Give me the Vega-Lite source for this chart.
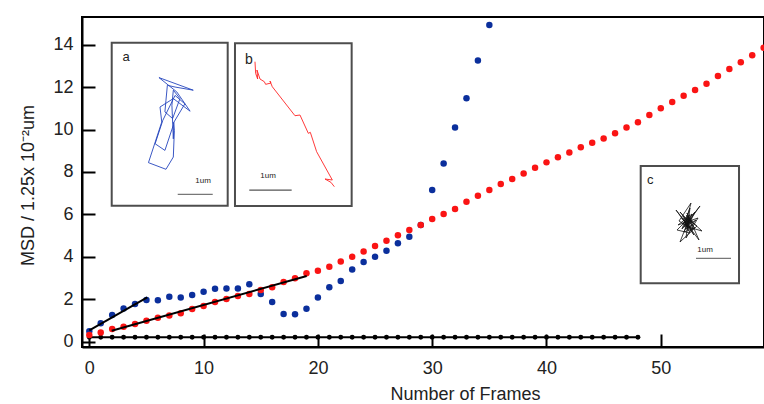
{
  "$schema": "https://vega.github.io/schema/vega-lite/v6.json",
  "width": 682,
  "height": 330,
  "autosize": "none",
  "padding": {"left": 82, "top": 17, "right": 0, "bottom": 57},
  "background": "white",
  "config": {
    "view": {"stroke": "black", "strokeWidth": 2},
    "axis": {
      "grid": false,
      "labelFont": "Liberation Sans",
      "labelFontSize": 18,
      "labelColor": "#222222",
      "titleFont": "Liberation Sans",
      "titleFontSize": 18,
      "titleFontWeight": "normal",
      "titleColor": "#222222"
    }
  },
  "datasets": {
    "msd": [
      {"series": "a", "frame": 0, "msd": 0.49}, {"series": "a", "frame": 1, "msd": 0.86}, {"series": "a", "frame": 2, "msd": 1.25}, {"series": "a", "frame": 3, "msd": 1.56},
      {"series": "a", "frame": 4, "msd": 1.77}, {"series": "a", "frame": 5, "msd": 1.96}, {"series": "a", "frame": 6, "msd": 1.95}, {"series": "a", "frame": 7, "msd": 2.11},
      {"series": "a", "frame": 8, "msd": 2.08}, {"series": "a", "frame": 9, "msd": 2.19}, {"series": "a", "frame": 10, "msd": 2.35}, {"series": "a", "frame": 11, "msd": 2.49},
      {"series": "a", "frame": 12, "msd": 2.5}, {"series": "a", "frame": 13, "msd": 2.5}, {"series": "a", "frame": 14, "msd": 2.7}, {"series": "a", "frame": 15, "msd": 2.24},
      {"series": "a", "frame": 16, "msd": 1.86}, {"series": "a", "frame": 17, "msd": 1.3}, {"series": "a", "frame": 18, "msd": 1.29}, {"series": "a", "frame": 19, "msd": 1.55},
      {"series": "a", "frame": 20, "msd": 2.08}, {"series": "a", "frame": 21, "msd": 2.56}, {"series": "a", "frame": 22, "msd": 2.85}, {"series": "a", "frame": 23, "msd": 3.4},
      {"series": "a", "frame": 24, "msd": 3.75}, {"series": "a", "frame": 25, "msd": 4.0}, {"series": "a", "frame": 26, "msd": 4.28}, {"series": "a", "frame": 27, "msd": 4.63},
      {"series": "a", "frame": 28, "msd": 4.94}, {"series": "a", "frame": 29, "msd": 5.5}, {"series": "a", "frame": 30, "msd": 7.15}, {"series": "a", "frame": 31, "msd": 8.4},
      {"series": "a", "frame": 32, "msd": 10.09}, {"series": "a", "frame": 33, "msd": 11.47}, {"series": "a", "frame": 34, "msd": 13.26}, {"series": "a", "frame": 35, "msd": 14.93},
      {"series": "b", "frame": 0, "msd": 0.31}, {"series": "b", "frame": 1, "msd": 0.43}, {"series": "b", "frame": 2, "msd": 0.59}, {"series": "b", "frame": 3, "msd": 0.7},
      {"series": "b", "frame": 4, "msd": 0.83}, {"series": "b", "frame": 5, "msd": 0.98}, {"series": "b", "frame": 6, "msd": 1.12}, {"series": "b", "frame": 7, "msd": 1.23},
      {"series": "b", "frame": 8, "msd": 1.33}, {"series": "b", "frame": 9, "msd": 1.53}, {"series": "b", "frame": 10, "msd": 1.67}, {"series": "b", "frame": 11, "msd": 1.86},
      {"series": "b", "frame": 12, "msd": 2.0}, {"series": "b", "frame": 13, "msd": 2.15}, {"series": "b", "frame": 14, "msd": 2.24}, {"series": "b", "frame": 15, "msd": 2.43},
      {"series": "b", "frame": 16, "msd": 2.56}, {"series": "b", "frame": 17, "msd": 2.81}, {"series": "b", "frame": 18, "msd": 2.98}, {"series": "b", "frame": 19, "msd": 3.22},
      {"series": "b", "frame": 20, "msd": 3.34}, {"series": "b", "frame": 21, "msd": 3.53}, {"series": "b", "frame": 22, "msd": 3.77}, {"series": "b", "frame": 23, "msd": 4.0},
      {"series": "b", "frame": 24, "msd": 4.25}, {"series": "b", "frame": 25, "msd": 4.5}, {"series": "b", "frame": 26, "msd": 4.75}, {"series": "b", "frame": 27, "msd": 5.01},
      {"series": "b", "frame": 28, "msd": 5.26}, {"series": "b", "frame": 29, "msd": 5.5}, {"series": "b", "frame": 30, "msd": 5.78}, {"series": "b", "frame": 31, "msd": 6.01},
      {"series": "b", "frame": 32, "msd": 6.25}, {"series": "b", "frame": 33, "msd": 6.59}, {"series": "b", "frame": 34, "msd": 6.88}, {"series": "b", "frame": 35, "msd": 7.15},
      {"series": "b", "frame": 36, "msd": 7.43}, {"series": "b", "frame": 37, "msd": 7.67}, {"series": "b", "frame": 38, "msd": 7.93}, {"series": "b", "frame": 39, "msd": 8.2},
      {"series": "b", "frame": 40, "msd": 8.45}, {"series": "b", "frame": 41, "msd": 8.69}, {"series": "b", "frame": 42, "msd": 8.92}, {"series": "b", "frame": 43, "msd": 9.16},
      {"series": "b", "frame": 44, "msd": 9.38}, {"series": "b", "frame": 45, "msd": 9.58}, {"series": "b", "frame": 46, "msd": 9.82}, {"series": "b", "frame": 47, "msd": 10.09},
      {"series": "b", "frame": 48, "msd": 10.34}, {"series": "b", "frame": 49, "msd": 10.68}, {"series": "b", "frame": 50, "msd": 11.0}, {"series": "b", "frame": 51, "msd": 11.3},
      {"series": "b", "frame": 52, "msd": 11.59}, {"series": "b", "frame": 53, "msd": 11.86}, {"series": "b", "frame": 54, "msd": 12.16}, {"series": "b", "frame": 55, "msd": 12.52},
      {"series": "b", "frame": 56, "msd": 12.85}, {"series": "b", "frame": 57, "msd": 13.17}, {"series": "b", "frame": 58, "msd": 13.5}, {"series": "b", "frame": 59, "msd": 13.86},
      {"series": "c", "frame": 0, "msd": 0.2}, {"series": "c", "frame": 1, "msd": 0.2}, {"series": "c", "frame": 2, "msd": 0.2}, {"series": "c", "frame": 3, "msd": 0.2},
      {"series": "c", "frame": 4, "msd": 0.2}, {"series": "c", "frame": 5, "msd": 0.2}, {"series": "c", "frame": 6, "msd": 0.2}, {"series": "c", "frame": 7, "msd": 0.2},
      {"series": "c", "frame": 8, "msd": 0.2}, {"series": "c", "frame": 9, "msd": 0.2}, {"series": "c", "frame": 10, "msd": 0.2}, {"series": "c", "frame": 11, "msd": 0.2},
      {"series": "c", "frame": 12, "msd": 0.2}, {"series": "c", "frame": 13, "msd": 0.2}, {"series": "c", "frame": 14, "msd": 0.2}, {"series": "c", "frame": 15, "msd": 0.2},
      {"series": "c", "frame": 16, "msd": 0.2}, {"series": "c", "frame": 17, "msd": 0.2}, {"series": "c", "frame": 18, "msd": 0.2}, {"series": "c", "frame": 19, "msd": 0.2},
      {"series": "c", "frame": 20, "msd": 0.2}, {"series": "c", "frame": 21, "msd": 0.2}, {"series": "c", "frame": 22, "msd": 0.2}, {"series": "c", "frame": 23, "msd": 0.2},
      {"series": "c", "frame": 24, "msd": 0.2}, {"series": "c", "frame": 25, "msd": 0.2}, {"series": "c", "frame": 26, "msd": 0.2}, {"series": "c", "frame": 27, "msd": 0.2},
      {"series": "c", "frame": 28, "msd": 0.2}, {"series": "c", "frame": 29, "msd": 0.2}, {"series": "c", "frame": 30, "msd": 0.2}, {"series": "c", "frame": 31, "msd": 0.2},
      {"series": "c", "frame": 32, "msd": 0.2}, {"series": "c", "frame": 33, "msd": 0.2}, {"series": "c", "frame": 34, "msd": 0.2}, {"series": "c", "frame": 35, "msd": 0.2},
      {"series": "c", "frame": 36, "msd": 0.2}, {"series": "c", "frame": 37, "msd": 0.2}, {"series": "c", "frame": 38, "msd": 0.2}, {"series": "c", "frame": 39, "msd": 0.2},
      {"series": "c", "frame": 40, "msd": 0.2}, {"series": "c", "frame": 41, "msd": 0.2}, {"series": "c", "frame": 42, "msd": 0.2}, {"series": "c", "frame": 43, "msd": 0.2},
      {"series": "c", "frame": 44, "msd": 0.2}, {"series": "c", "frame": 45, "msd": 0.2}, {"series": "c", "frame": 46, "msd": 0.2}, {"series": "c", "frame": 47, "msd": 0.2},
      {"series": "c", "frame": 48, "msd": 0.2}
    ],
    "fits": [
      {"fit": "a", "frame": 0, "msd": 0.53}, {"fit": "a", "frame": 5.07, "msd": 2.08},
      {"fit": "b", "frame": 1.96, "msd": 0.51}, {"fit": "b", "frame": 19.02, "msd": 3.09}
    ],
    "frameTicks": [{"frame": 0}, {"frame": 10}, {"frame": 20}, {"frame": 30}, {"frame": 40}, {"frame": 50}],
    "msdTicks": [{"msd": 0}, {"msd": 2}, {"msd": 4}, {"msd": 6}, {"msd": 8}, {"msd": 10}, {"msd": 12}, {"msd": 14}],
    "trackA": [
      {"step": 1, "x": 1.76, "y": 2.39}, {"step": 2, "x": 1.79, "y": 2.15}, {"step": 3, "x": 1.76, "y": 1.39}, {"step": 4, "x": 1.55, "y": 1.04},
      {"step": 5, "x": 1.05, "y": 1.23}, {"step": 6, "x": 1.43, "y": 2.39}, {"step": 7, "x": 1.38, "y": 2.82}, {"step": 8, "x": 1.76, "y": 3.06},
      {"step": 9, "x": 2.24, "y": 2.7}, {"step": 10, "x": 1.86, "y": 3.25}, {"step": 11, "x": 1.35, "y": 3.66}, {"step": 12, "x": 2.33, "y": 3.3},
      {"step": 13, "x": 1.81, "y": 3.39}, {"step": 14, "x": 1.59, "y": 3.44}, {"step": 15, "x": 1.55, "y": 3.01}, {"step": 16, "x": 1.52, "y": 2.68},
      {"step": 17, "x": 1.74, "y": 2.49}, {"step": 18, "x": 1.95, "y": 3.06}, {"step": 19, "x": 1.76, "y": 3.3}, {"step": 20, "x": 1.72, "y": 2.87},
      {"step": 21, "x": 1.76, "y": 1.91}, {"step": 22, "x": 1.78, "y": 2.39}, {"step": 23, "x": 2.09, "y": 2.91}, {"step": 24, "x": 1.81, "y": 3.15},
      {"step": 25, "x": 1.46, "y": 2.44}, {"step": 26, "x": 1.24, "y": 1.77}, {"step": 27, "x": 1.52, "y": 1.58}, {"step": 28, "x": 1.76, "y": 2.3}
    ],
    "trackB": [
      {"step": 1, "x": 0.472, "y": 3.404}, {"step": 2, "x": 0.487, "y": 3.129}, {"step": 3, "x": 0.535, "y": 2.995}, {"step": 4, "x": 0.519, "y": 3.208},
      {"step": 5, "x": 0.59, "y": 2.995}, {"step": 6, "x": 0.692, "y": 2.932}, {"step": 7, "x": 0.723, "y": 2.87}, {"step": 8, "x": 0.849, "y": 2.901},
      {"step": 9, "x": 0.825, "y": 2.948}, {"step": 10, "x": 0.88, "y": 2.814}, {"step": 11, "x": 1.415, "y": 2.13}, {"step": 12, "x": 1.533, "y": 2.146},
      {"step": 13, "x": 1.73, "y": 1.714}, {"step": 14, "x": 1.777, "y": 1.738}, {"step": 15, "x": 1.926, "y": 1.281}, {"step": 16, "x": 2.296, "y": 0.613},
      {"step": 17, "x": 2.123, "y": 0.637}, {"step": 18, "x": 2.264, "y": 0.558}, {"step": 19, "x": 2.343, "y": 0.456}
    ],
    "trackC": [
      {"step": 1, "x": 1.351, "y": 1.751}, {"step": 2, "x": 1.123, "y": 2.037}, {"step": 3, "x": 1.551, "y": 1.58}, {"step": 4, "x": 1.237, "y": 1.466},
      {"step": 5, "x": 1.466, "y": 1.98}, {"step": 6, "x": 1.066, "y": 1.666}, {"step": 7, "x": 1.637, "y": 1.866}, {"step": 8, "x": 1.294, "y": 1.294},
      {"step": 9, "x": 1.409, "y": 2.151}, {"step": 10, "x": 1.18, "y": 1.551}, {"step": 11, "x": 1.694, "y": 2.209}, {"step": 12, "x": 1.323, "y": 1.694},
      {"step": 13, "x": 1.009, "y": 2.094}, {"step": 14, "x": 1.523, "y": 1.38}, {"step": 15, "x": 1.209, "y": 1.923}, {"step": 16, "x": 1.609, "y": 1.637},
      {"step": 17, "x": 1.123, "y": 1.18}, {"step": 18, "x": 1.38, "y": 1.837}, {"step": 19, "x": 1.751, "y": 1.494}, {"step": 20, "x": 1.266, "y": 1.637},
      {"step": 21, "x": 1.437, "y": 2.294}, {"step": 22, "x": 1.094, "y": 1.78}, {"step": 23, "x": 1.494, "y": 1.523}, {"step": 24, "x": 1.323, "y": 2.009},
      {"step": 25, "x": 1.666, "y": 1.237}, {"step": 26, "x": 1.237, "y": 1.809}, {"step": 27, "x": 1.409, "y": 1.437}, {"step": 28, "x": 1.037, "y": 1.523},
      {"step": 29, "x": 1.551, "y": 2.037}, {"step": 30, "x": 1.351, "y": 1.637}, {"step": 31, "x": 1.2, "y": 1.72}, {"step": 32, "x": 1.45, "y": 1.86},
      {"step": 33, "x": 1.28, "y": 1.55}, {"step": 34, "x": 1.52, "y": 1.7}, {"step": 35, "x": 1.31, "y": 1.94}, {"step": 36, "x": 1.42, "y": 1.58},
      {"step": 37, "x": 1.17, "y": 1.86}, {"step": 38, "x": 1.48, "y": 1.78}, {"step": 39, "x": 1.26, "y": 1.67}, {"step": 40, "x": 1.39, "y": 1.96},
      {"step": 41, "x": 1.33, "y": 1.52}, {"step": 42, "x": 1.58, "y": 1.81}, {"step": 43, "x": 1.22, "y": 1.6}, {"step": 44, "x": 1.36, "y": 1.78}
    ]
  },
  "layer": [
    {
      "encoding": {
        "x": {"field": "frame", "type": "quantitative", "scale": {"domain": [-0.639, 59.03], "nice": false, "zero": false},
              "axis": {"orient": "bottom", "values": [0, 10, 20, 30, 40, 50], "domainColor": "black", "domainWidth": 2, "tickSize": -13, "tickWidth": 2, "tickColor": "black", "labelPadding": 25, "title": "Number of Frames", "titleX": 383, "titleY": 47, "titleBaseline": "middle", "titleAnchor": null}},
        "y": {"field": "msd", "type": "quantitative", "scale": {"domain": [-0.259, 15.307], "nice": false, "zero": false},
              "axis": {"orient": "left", "values": [0, 2, 4, 6, 8, 10, 12, 14], "domainColor": "black", "domainWidth": 2, "tickSize": -13, "tickWidth": 2, "tickColor": "black", "labelPadding": 22, "title": "MSD / 1.25x 10⁻²um", "titleX": -54, "titleY": 168, "titleAngle": -90, "titleAlign": "center", "titleBaseline": "middle"}}
      },
      "layer": [
        {
          "data": {"name": "frameTicks"},
          "mark": {"type": "rule", "color": "black", "strokeWidth": 2},
          "encoding": {"y": {"datum": -0.259, "type": "quantitative"}, "y2": {"datum": 0.354}}
        },
        {
          "data": {"name": "frameTicks"},
          "mark": {"type": "rule", "color": "black", "strokeWidth": 2},
          "encoding": {"y": {"datum": 15.307, "type": "quantitative"}, "y2": {"datum": 14.694}}
        },
        {
          "data": {"name": "msdTicks"},
          "mark": {"type": "rule", "color": "black", "strokeWidth": 2},
          "encoding": {"x": {"datum": -0.639, "type": "quantitative"}, "x2": {"datum": 0.498}}
        },
        {
          "data": {"name": "msdTicks"},
          "mark": {"type": "rule", "color": "black", "strokeWidth": 2},
          "encoding": {"x": {"datum": 59.03, "type": "quantitative"}, "x2": {"datum": 57.893}}
        },
        {
          "data": {"name": "msd"},
          "transform": [{"filter": "datum.series === 'c'"}],
          "mark": {"type": "line", "color": "black", "strokeWidth": 2},
          "encoding": {}
        },
        {
          "data": {"name": "msd"},
          "transform": [{"filter": "datum.series === 'c'"}],
          "mark": {"type": "circle", "color": "black", "opacity": 1, "size": 24},
          "encoding": {}
        },
        {
          "data": {"name": "msd"},
          "transform": [{"filter": "datum.series !== 'c'"}],
          "mark": {"type": "circle", "opacity": 1, "size": 42},
          "encoding": {
            "color": {"field": "series", "type": "nominal", "scale": {"domain": ["a", "b"], "range": ["#0b2f9c", "#fa1414"]}, "legend": null}
          }
        },
        {
          "data": {"name": "fits"},
          "mark": {"type": "line", "color": "black", "strokeWidth": 2},
          "encoding": {"detail": {"field": "fit"}}
        }
      ]
    },
    {
      "encoding": {
        "x": {"field": "x", "type": "quantitative", "scale": {"domain": [-0.849, 18.637], "nice": false, "zero": false}, "axis": null},
        "y": {"field": "y", "type": "quantitative", "scale": {"domain": [-4.037, 5.391], "nice": false, "zero": false}, "axis": null}
      },
      "layer": [
        {
          "data": {"values": [{"x": 0, "y": 0, "x2": 3.314, "y2": 4.657}]},
          "mark": {"type": "rect", "fill": "white", "stroke": "#4d4d4d", "strokeWidth": 2},
          "encoding": {"x2": {"field": "x2"}, "y2": {"field": "y2"}}
        },
        {
          "data": {"name": "trackA"},
          "mark": {"type": "line", "color": "#2545bd", "strokeWidth": 0.9},
          "encoding": {"order": {"field": "step", "type": "quantitative"}}
        },
        {
          "data": {"values": [{"x": 1.886, "y": 0.326, "x2": 2.886}]},
          "mark": {"type": "rule", "color": "#777777", "strokeWidth": 1.2},
          "encoding": {"x2": {"field": "x2"}}
        },
        {
          "data": {"values": [{"x": 0.41, "y": 4.25, "label": "a"}, {"x": 2.61, "y": 0.71, "label": "1um"}]},
          "mark": {"type": "text", "font": "Liberation Sans", "color": "#222222", "align": "center", "baseline": "middle"},
          "encoding": {"text": {"field": "label"}, "size": {"condition": {"test": "datum.label === 'a'", "value": 13}, "value": 8}}
        }
      ]
    },
    {
      "encoding": {
        "x": {"field": "x", "type": "quantitative", "scale": {"domain": [-3.608, 12.477], "nice": false, "zero": false}, "axis": null},
        "y": {"field": "y", "type": "quantitative", "scale": {"domain": [-3.325, 4.458], "nice": false, "zero": false}, "axis": null}
      },
      "layer": [
        {
          "data": {"values": [{"x": 0, "y": 0, "x2": 2.752, "y2": 3.837}]},
          "mark": {"type": "rect", "fill": "white", "stroke": "#4d4d4d", "strokeWidth": 2},
          "encoding": {"x2": {"field": "x2"}, "y2": {"field": "y2"}}
        },
        {
          "data": {"name": "trackB"},
          "mark": {"type": "line", "color": "#ff2424", "strokeWidth": 0.9},
          "encoding": {"order": {"field": "step", "type": "quantitative"}}
        },
        {
          "data": {"values": [{"x": 0.337, "y": 0.377, "x2": 1.337}]},
          "mark": {"type": "rule", "color": "#555555", "strokeWidth": 1.2},
          "encoding": {"x2": {"field": "x2"}}
        },
        {
          "data": {"values": [{"x": 0.33, "y": 3.44, "label": "b"}, {"x": 0.78, "y": 0.71, "label": "1um"}]},
          "mark": {"type": "text", "font": "Liberation Sans", "color": "#222222", "align": "center", "baseline": "middle"},
          "encoding": {"text": {"field": "label"}, "size": {"condition": {"test": "datum.label === 'b'", "value": 14}, "value": 8}}
        }
      ]
    },
    {
      "encoding": {
        "x": {"field": "x", "type": "quantitative", "scale": {"domain": [-15.963, 3.523], "nice": false, "zero": false}, "axis": null},
        "y": {"field": "y", "type": "quantitative", "scale": {"domain": [-1.82, 7.609], "nice": false, "zero": false}, "axis": null}
      },
      "layer": [
        {
          "data": {"values": [{"x": 0, "y": 0, "x2": 2.809, "y2": 3.351}]},
          "mark": {"type": "rect", "fill": "white", "stroke": "#4d4d4d", "strokeWidth": 2},
          "encoding": {"x2": {"field": "x2"}, "y2": {"field": "y2"}}
        },
        {
          "data": {"name": "trackC"},
          "mark": {"type": "line", "color": "#111111", "strokeWidth": 0.8},
          "encoding": {"order": {"field": "step", "type": "quantitative"}}
        },
        {
          "data": {"values": [{"x": 1.58, "y": 0.714, "x2": 2.58}]},
          "mark": {"type": "rule", "color": "#777777", "strokeWidth": 1.2},
          "encoding": {"x2": {"field": "x2"}}
        },
        {
          "data": {"values": [{"x": 0.27, "y": 2.95, "label": "c"}, {"x": 1.84, "y": 0.95, "label": "1um"}]},
          "mark": {"type": "text", "font": "Liberation Sans", "color": "#222222", "align": "center", "baseline": "middle"},
          "encoding": {"text": {"field": "label"}, "size": {"condition": {"test": "datum.label === 'c'", "value": 13}, "value": 8}}
        }
      ]
    }
  ],
  "resolve": {
    "scale": {"x": "independent", "y": "independent", "color": "independent"},
    "axis": {"x": "independent", "y": "independent"}
  }
}
